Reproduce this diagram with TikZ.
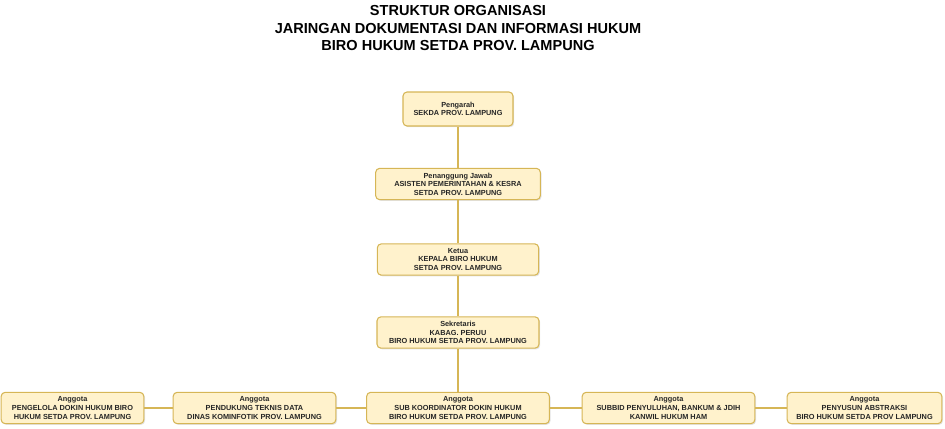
\documentclass[tikz,border=0pt]{standalone}
\usepackage{fontspec}
\setmainfont{Liberation Sans}
\usepackage{tikz}
\usetikzlibrary{shadows}
\definecolor{boxfill}{HTML}{FFF2CC}
\definecolor{boxline}{HTML}{D6B656}

\begin{document}
\begin{tikzpicture}[x=0.75pt,y=-0.75pt,
  jab/.style={draw=boxline,fill=boxfill,line width=0.8pt,rounded corners=3pt,
    inner sep=0pt,minimum height=23.5pt,align=center,text=black!85,
    font=\fontsize{5.5}{6.45}\selectfont\bfseries,
    drop shadow={opacity=0.22,shadow xshift=0.9pt,shadow yshift=-0.9pt}},
  garis/.style={draw=boxline,line width=1.5pt}]
\useasboundingbox (0,0) rectangle (945,428);
\node[align=center,font=\fontsize{10.9}{12.9}\selectfont\bfseries] (judul) at (458,28)
  {STRUKTUR ORGANISASI\\JARINGAN DOKUMENTASI DAN INFORMASI HUKUM\\BIRO HUKUM SETDA PROV. LAMPUNG};
% garis tengah
\node[jab,minimum width=82.5pt,minimum height=25.5pt] (pengarah) at (458,109) {Pengarah\\SEKDA PROV. LAMPUNG};
\node[jab,minimum width=123.5pt] (pj) at (458,184) {Penanggung Jawab\\ASISTEN PEMERINTAHAN \& KESRA\\SETDA PROV. LAMPUNG};
\node[jab,minimum width=121pt] (ketua) at (458,259.5) {Ketua\\KEPALA BIRO HUKUM\\SETDA PROV. LAMPUNG};
\node[jab,minimum width=121.5pt] (sekretaris) at (458,332.5) {Sekretaris\\KABAG. PERUU\\BIRO HUKUM SETDA PROV. LAMPUNG};
% anggota
\node[jab,minimum width=137pt] (subkoor) at (458,408) {Anggota\\SUB KOORDINATOR DOKIN HUKUM\\BIRO HUKUM SETDA PROV. LAMPUNG};
\node[jab,minimum width=122pt] (pendukung) at (254.5,408) {Anggota\\PENDUKUNG TEKNIS DATA\\DINAS KOMINFOTIK PROV. LAMPUNG};
\node[jab,minimum width=107pt] (pengelola) at (72.5,408) {Anggota\\PENGELOLA DOKIN HUKUM BIRO\\HUKUM SETDA PROV. LAMPUNG};
\node[jab,minimum width=129.5pt] (subbid) at (668.5,408) {Anggota\\SUBBID PENYULUHAN, BANKUM \& JDIH\\KANWIL HUKUM HAM};
\node[jab,minimum width=116pt] (penyusun) at (864.5,408) {Anggota\\PENYUSUN ABSTRAKSI\\BIRO HUKUM SETDA PROV LAMPUNG};
\draw[garis] (pengarah) -- (pj);
\draw[garis] (pj) -- (ketua);
\draw[garis] (ketua) -- (sekretaris);
\draw[garis] (sekretaris) -- (subkoor);
\draw[garis] (pengelola) -- (pendukung);
\draw[garis] (pendukung) -- (subkoor);
\draw[garis] (subkoor) -- (subbid);
\draw[garis] (subbid) -- (penyusun);
\end{tikzpicture}
\end{document}
